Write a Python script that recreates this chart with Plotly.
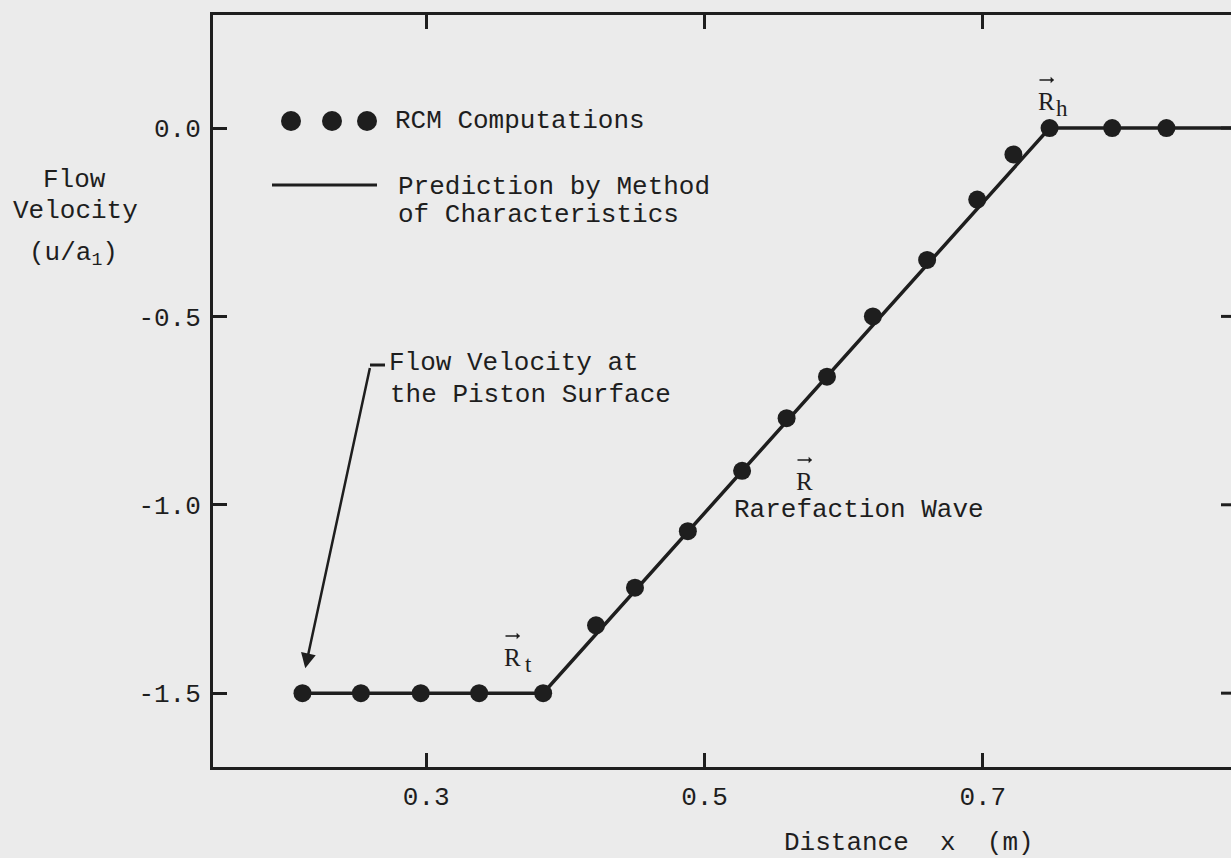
import plotly.graph_objects as go

# RCM (random choice method) flow velocity samples along the tube
rcm_x = [0.211, 0.253, 0.296, 0.338, 0.384, 0.422, 0.450, 0.488, 0.527, 0.559,
         0.588, 0.621, 0.660, 0.696, 0.722, 0.748, 0.793, 0.832]
rcm_u = [-1.50, -1.50, -1.50, -1.50, -1.50, -1.32, -1.22, -1.07, -0.91, -0.77,
         -0.66, -0.50, -0.35, -0.19, -0.07, 0.00, 0.00, 0.00]

# Method-of-characteristics prediction: piston, wave tail R_t, wave head R_h, undisturbed gas
moc_x = [0.211, 0.384, 0.748, 0.95]
moc_u = [-1.5, -1.5, 0.0, 0.0]

x_ticks = [0.3, 0.5, 0.7]
x_tick_labels = ["0.3", "0.5", "0.7"]
y_ticks = [0.0, -0.5, -1.0, -1.5]
y_tick_labels = ["0.0", "-0.5", "-1.0", "-1.5"]

INK = "#1e1e1e"
PAPER = "#ebebeb"
MONO = "Liberation Mono, Courier New, monospace"
SERIF = "Liberation Serif, Times New Roman, serif"
FS = 26

W, H = 1231, 858
L, T, R, B = 213, 15, 1231, 767


def canvas_pos(px, py):
    """Page pixel -> paper coordinates of the plotting area."""
    return (px - L) / (R - L), (B - py) / (B - T)


fig = go.Figure()

fig.add_trace(go.Scatter(
    x=moc_x, y=moc_u, mode="lines",
    line=dict(color=INK, width=3.5),
    showlegend=False, hoverinfo="skip",
))
fig.add_trace(go.Scatter(
    x=rcm_x, y=rcm_u, mode="markers",
    marker=dict(size=18, color=INK, line=dict(width=0)),
    showlegend=False, cliponaxis=False,
))

shapes = []
annotations = []


def text(s, px, py, xanchor="left", size=FS, family=MONO):
    x, y = canvas_pos(px, py)
    annotations.append(dict(
        text=s, x=x, y=y, xref="paper", yref="paper",
        xanchor=xanchor, yanchor="middle", showarrow=False,
        font=dict(family=family, size=size, color=INK),
    ))


def vector_arrow(px, py):
    """Small right-pointing arrow drawn over a wave symbol."""
    xb, yb = canvas_pos(px + 8, py)
    annotations.append(dict(
        text="", xref="paper", yref="paper",
        x=xb, y=yb, ax=-16, ay=0, showarrow=True,
        arrowhead=1, arrowsize=0.7, arrowwidth=1.6, arrowcolor=INK,
        standoff=0, startstandoff=0,
    ))


def wave_symbol(px, py, sub=None):
    """Vector R with an optional lowered index letter."""
    text("R", px, py, xanchor="center", size=25, family=SERIF)
    vector_arrow(px, py - 21)
    if sub:
        text(sub, px + 16, py + 7, xanchor="center", size=23, family=SERIF)


# key: three dots and a solid line
for px in (291, 332, 367):
    x, y = canvas_pos(px, 121)
    shapes.append(dict(
        type="circle", xref="paper", yref="paper",
        xsizemode="pixel", ysizemode="pixel", xanchor=x, yanchor=y,
        x0=-10, x1=10, y0=-10, y1=10,
        fillcolor=INK, line=dict(width=0),
    ))
x0, y0 = canvas_pos(272, 185)
x1, _ = canvas_pos(377, 185)
shapes.append(dict(type="line", xref="paper", yref="paper", x0=x0, x1=x1, y0=y0, y1=y0,
                   line=dict(color=INK, width=3)))

text("RCM Computations", 393, 121)
text("Prediction by Method", 396, 187)
text("of Characteristics", 396, 215)

# piston surface call-out
text("Flow Velocity at", 387, 363)
text("the Piston Surface", 388, 395)
tx, ty = canvas_pos(370, 365)
tx2, _ = canvas_pos(385, 365)
shapes.append(dict(type="line", xref="paper", yref="paper", x0=tx, x1=tx2, y0=ty, y1=ty,
                   line=dict(color=INK, width=3)))
annotations.append(dict(
    text="", xref="x", yref="y", axref="x", ayref="y",
    x=rcm_x[0] + 0.002, y=-1.434, ax=0.2597, ay=-0.633,
    showarrow=True, arrowhead=2, arrowsize=1.2, arrowwidth=2.5, arrowcolor=INK,
    standoff=0, startstandoff=0,
))

# wave labels
text("Rarefaction Wave", 859, 510, xanchor="center")
wave_symbol(804, 481)
wave_symbol(512, 657, "t")
wave_symbol(1046, 101, "h")

# axis titles
text("Flow", 74, 180, xanchor="center")
text("Velocity", 75, 211, xanchor="center")
text("(u/a<sub>1</sub>)", 73, 254, xanchor="center")
text("Distance\u00a0\u00a0x\u00a0\u00a0(m)", 909, 843, xanchor="center")

# inward ticks on the right-hand frame edge
for v in y_ticks:
    shapes.append(dict(type="line", xref="paper", yref="y",
                       x0=1 - 10 / (R - L), x1=1, y0=v, y1=v,
                       line=dict(color=INK, width=3)))

axis_common = dict(
    showline=True, linewidth=3, linecolor=INK,
    ticks="inside", ticklen=14, tickwidth=3, tickcolor=INK,
    showgrid=False, zeroline=False,
    tickfont=dict(family=MONO, size=FS, color=INK),
)

fig.update_layout(
    width=W, height=H,
    margin=dict(l=L, r=W - R, t=T, b=H - B, autoexpand=False),
    paper_bgcolor=PAPER, plot_bgcolor=PAPER,
    xaxis=dict(range=[0.1467, 0.8784], tickmode="array", tickvals=x_ticks,
               ticktext=x_tick_labels, mirror="ticks", ticklabelstandoff=4, **axis_common),
    yaxis=dict(range=[-1.696, 0.300], tickmode="array", tickvals=y_ticks,
               ticktext=y_tick_labels, mirror=False, ticklabelstandoff=4, **axis_common),
    shapes=shapes,
    annotations=annotations,
    showlegend=False,
)

fig.write_html("out.html")
